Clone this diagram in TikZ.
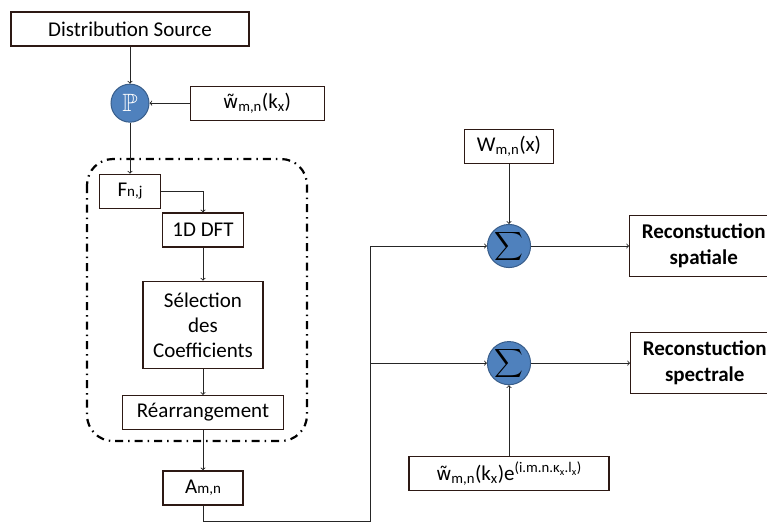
\documentclass[tikz,border=0pt]{standalone}
\usepackage{fontspec}
\setmainfont{Carlito}
\newfontfamily\dejavu[Scale=0.88]{DejaVu Sans}
\usepackage{amssymb}
\usepackage{tikz}
\usetikzlibrary{arrows,positioning}
\definecolor{sumblue}{RGB}{79,129,189}
\definecolor{sumedge}{RGB}{56,93,138}
\definecolor{boxedge}{RGB}{45,25,20}
\newcommand{\petit}[1]{{\fontsize{15}{15}\selectfont #1}}
\newcommand{\wtilde}{{\dejavu w̃}}
\tikzset{
    %Define standard arrow tip
    >=to,
    %Define style for boxes
    bloc/.style={
           rectangle,
           draw=boxedge, line width=1.3pt,
           inner sep=0pt,
           minimum height=34pt,
           font=\fontsize{21}{25}\selectfont,
           align=center},
    grasbloc/.style={
           bloc,
           minimum width=148pt,
           minimum height=61pt,
           font=\fontsize{21}{26}\selectfont\bfseries},
    %Define style for summing points
    somme/.style={
           circle,
           draw=sumedge, line width=1pt,
           fill=sumblue,
           minimum size=38pt,
           inner sep=0pt},
    % Define arrow style
    fleche/.style={
           ->,
           line width=0.9pt,
           black!85},
    cadre/.style={
           line width=2.2pt,
           rounded corners=26pt,
           dash pattern=on 8pt off 5pt on 1.5pt off 5pt}
}
\begin{document}
\begin{tikzpicture}[x=1pt,y=-1pt]
\useasboundingbox (0,0) rectangle (767,523);
% left column
\node[bloc, minimum width=238pt] (src) at (130,29) {Distribution Source};
\node[somme, below=37pt of src] (p) {\fontsize{25}{25}\selectfont\color{white}$\mathbb{P}$};
\node[bloc, minimum width=134pt, right=40pt of p] (wk) {\wtilde\textsubscript{m,n}(k\textsubscript{x})};
\node[bloc, minimum width=61pt, below=51pt of p] (f) {F\petit{n,j}};
\node[bloc, minimum width=81pt] (dft) at (203,230) {1D DFT};
\node[bloc, minimum width=120pt, minimum height=87pt, below=33pt of dft] (sel) {Sélection\\des\\Coefficients};
\node[bloc, minimum width=161pt, below=26pt of sel] (rea) {Réarrangement};
\node[bloc, minimum width=80pt, below=40pt of rea] (amn) {A\petit{m,n}};
\draw[cadre] (87,159) rectangle (307,441);
% right part
\coordinate (bas) at (370,521);
\node[somme] (s1) at (509,246) {\fontsize{20}{20}\selectfont$\displaystyle\sum$};
\node[somme, below=73pt of s1] (s2) {\fontsize{20}{20}\selectfont$\displaystyle\sum$};
\node[bloc, minimum width=89pt, above=60pt of s1] (wx) {W\textsubscript{m,n}(x)};
\node[bloc, minimum width=200pt, below=71pt of s2] (we) {\wtilde\textsubscript{m,n}(k\textsubscript{x})e\textsuperscript{(i.m.n.κ\textsubscript{x}.l\textsubscript{x})}};
\node[grasbloc, right=98pt of s1] (rs) {Reconstuction\\spatiale};
\node[grasbloc, right=99pt of s2] (rsp) {Reconstuction\\spectrale};
\path[fleche]
    (src) edge (p)
    (wk) edge (p)
    (p) edge (f)
    (dft) edge (sel)
    (sel) edge (rea)
    (rea) edge (amn)
    (wx) edge (s1)
    (we) edge (s2)
    (s1) edge (rs)
    (s2) edge (rsp);
\draw[fleche] (f.east) -| (dft.north);
\draw[fleche] (amn.south) |- (bas) |- (s1.west);
\draw[fleche] (bas |- s2.west) -- (s2.west);
\end{tikzpicture}
\end{document}
